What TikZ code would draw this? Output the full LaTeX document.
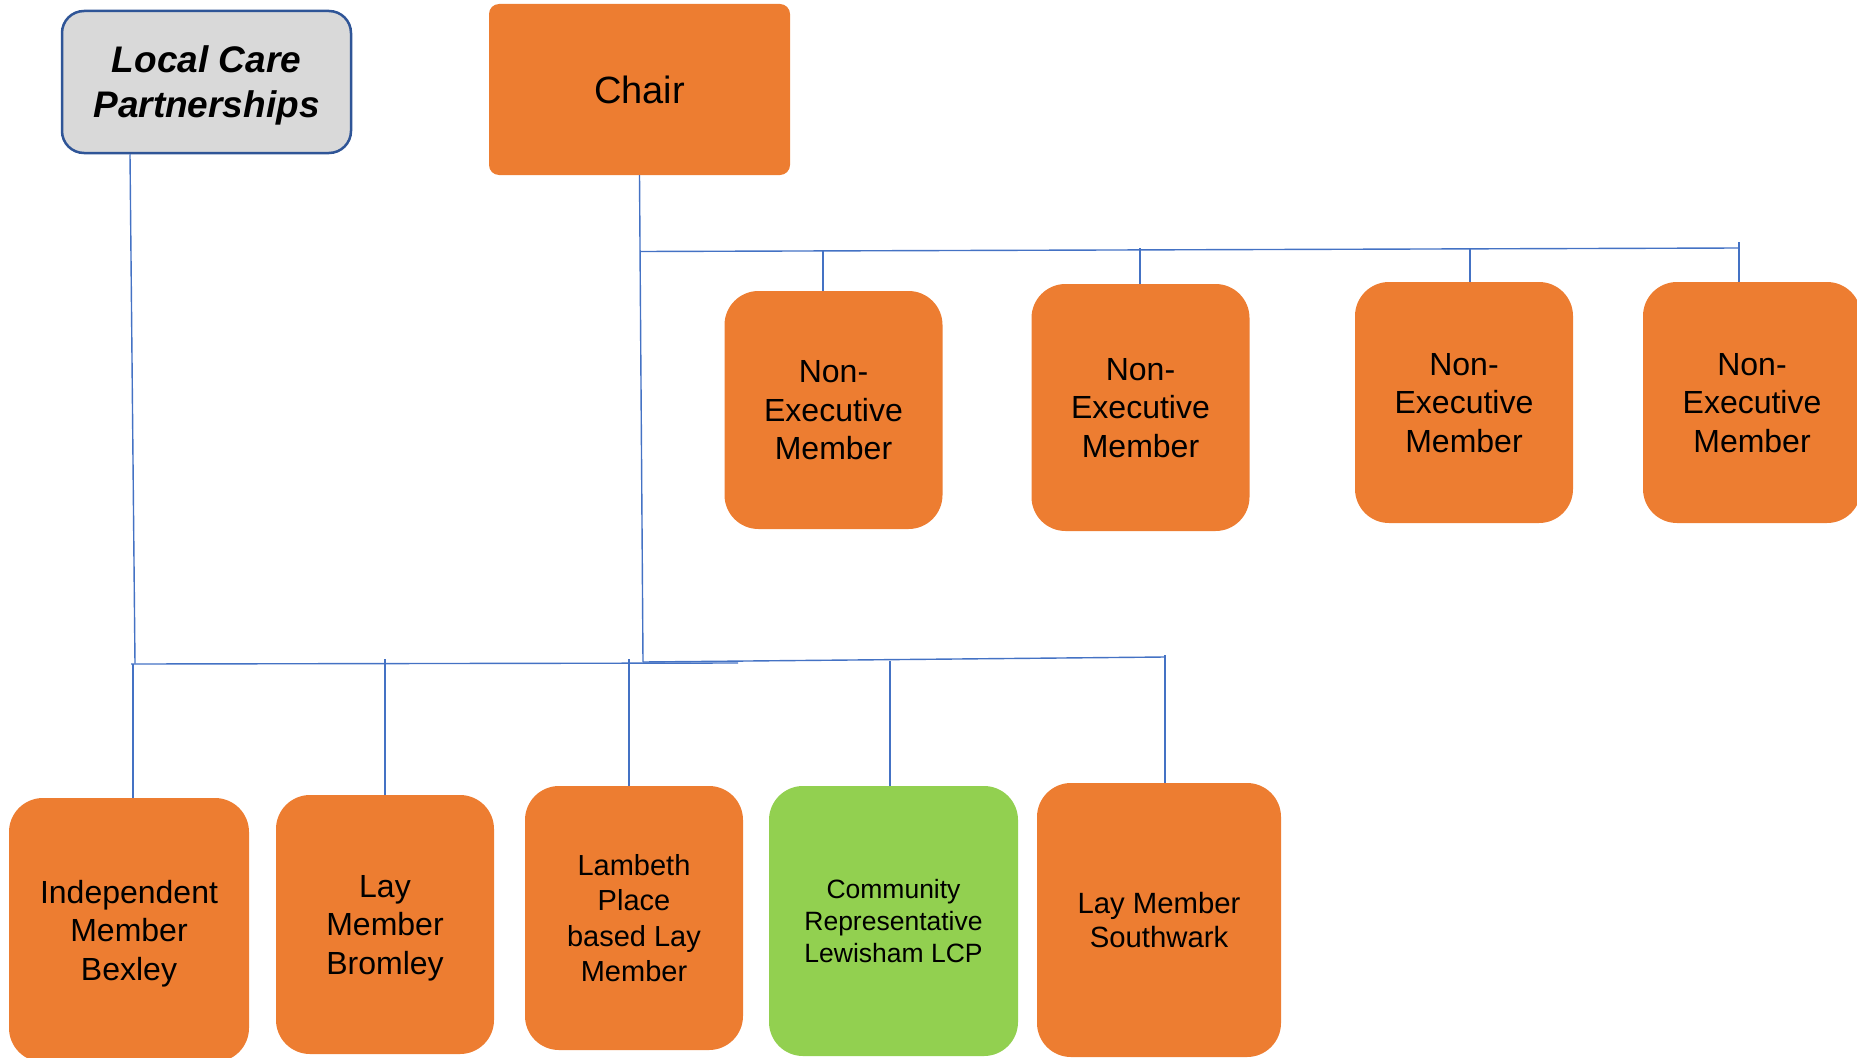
\documentclass[tikz,border=0pt]{standalone}
\usepackage{fontspec}
\setmainfont{Liberation Sans}
\usepackage{tikz}

\definecolor{boardOrange}{HTML}{ED7D31}
\definecolor{lcpGreen}{HTML}{92D050}
\definecolor{lcpGrey}{HTML}{D9D9D9}
\definecolor{lcpBlue}{HTML}{2F5597}
\definecolor{linkBlue}{HTML}{4472C4}

\begin{document}
\begin{tikzpicture}[x=1pt, y=-1pt,
  member/.style={fill=boardOrange, rounded corners=34pt, inner sep=0pt, align=center, text depth=0pt,
    minimum width=218pt, font=\fontsize{32pt}{38.5pt}\selectfont},
  link/.style={draw=linkBlue, line width=1.4pt}]
\newcommand{\dropTo}[2]{\draw[link] (#1) -- (#1 |- #2.north);}%
\useasboundingbox (0,0) rectangle (1857,1057);

\node[fill=lcpGrey, draw=lcpBlue, line width=2.5pt, rounded corners=22pt, align=center, text depth=0pt,
  minimum width=289pt, minimum height=142pt, font=\bfseries\itshape\fontsize{37pt}{45pt}\selectfont]
  (lcp) at (206.5,82) {Local Care\\Partnerships};
\node[member, rounded corners=10pt, minimum width=301pt, minimum height=171pt,
  font=\fontsize{38pt}{43pt}\selectfont] (chair) at (639.5,89.5) {Chair};

\foreach \name/\cx/\cy/\h in {nem1/833.5/410/238, nem2/1140.5/407.5/247, nem3/1464/402.5/241, nem4/1752/402.5/241} {
  \node[member, minimum height=\h pt] (\name) at (\cx,\cy) {Non-\\Executive\\Member};
}

\node[member, minimum width=240pt, minimum height=264pt] (bexley) at (129,930) {Independent\\Member\\Bexley};
\node[member, minimum height=259pt] (bromley) at (385,924.5) {Lay\\Member\\Bromley};
\node[member, minimum height=264pt, font=\fontsize{29pt}{35.5pt}\selectfont] (lambeth) at (634,918) {Lambeth\\Place\\based Lay\\Member};
\node[member, fill=lcpGreen, minimum width=249pt, minimum height=270pt, font=\fontsize{26.5pt}{32pt}\selectfont] (lewisham) at (893.5,921) {Community\\Representative\\Lewisham LCP};
\node[member, minimum width=244pt, minimum height=274pt, font=\fontsize{29.3pt}{34.5pt}\selectfont] (southwark) at (1159,920) {Lay Member\\Southwark};

\coordinate (topL) at (640,251.5);
\coordinate (topR) at (1739,248);
\coordinate (t1) at (823,251.3);
\coordinate (t2) at (1140,248);
\coordinate (t3) at (1470,248);
\coordinate (t4) at (1739,242);
\coordinate (lcpFoot) at (135,663.5);
\coordinate (chairFoot) at (643,662);
\coordinate (lowL) at (131,664);
\coordinate (lowStub) at (738,663);
\coordinate (lowR) at (1165,657);
\coordinate (b1) at (133,664);
\coordinate (b2) at (385,659);
\coordinate (b3) at (629,659);
\coordinate (b4) at (890,661);
\coordinate (b5) at (1165,655);

\draw[link] ([xshift=-76.5pt]lcp.south) -- (lcpFoot);
\draw[link] (chair.south) -- (chairFoot);
\draw[link] (topL) -- (topR);
\draw[link] (lowL) -- (lowStub);
\draw[link] (chairFoot) -- (lowR);
\dropTo{t1}{nem1}
\dropTo{t2}{nem2}
\dropTo{t3}{nem3}
\dropTo{t4}{nem4}
\dropTo{b1}{bexley}
\dropTo{b2}{bromley}
\dropTo{b3}{lambeth}
\dropTo{b4}{lewisham}
\dropTo{b5}{southwark}

\end{tikzpicture}
\end{document}
